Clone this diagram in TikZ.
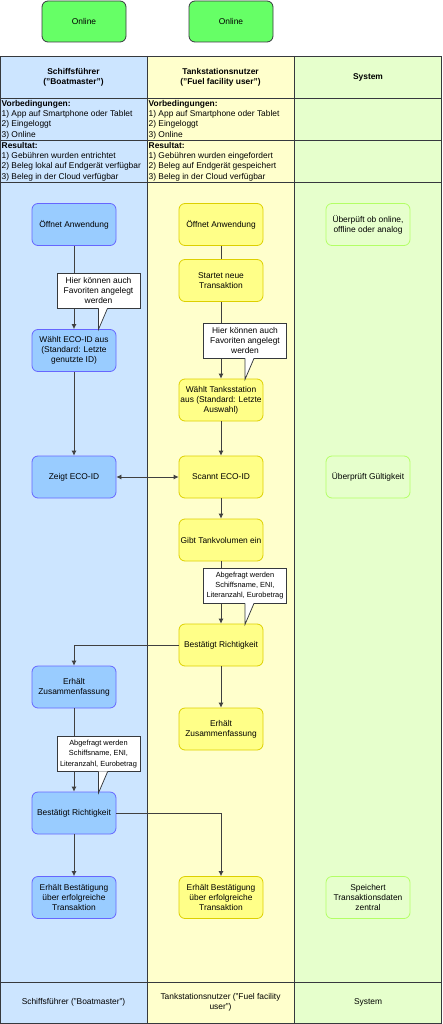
\documentclass[tikz,border=0pt]{standalone}
\usepackage{fontspec}
\setmainfont{Liberation Sans}
\usetikzlibrary{arrows.meta}

\definecolor{laneblue}{HTML}{CCE5FF}
\definecolor{laneyellow}{HTML}{FFFFCC}
\definecolor{lanegreen}{HTML}{E6FFCC}
\definecolor{boxblue}{HTML}{99CCFF}
\definecolor{edgeblue}{HTML}{6666FF}
\definecolor{boxyellow}{HTML}{FFFF88}
\definecolor{edgeyellow}{HTML}{DDD000}
\definecolor{edgegreen}{HTML}{B3FF66}
\definecolor{onlinegreen}{HTML}{66FF66}
\definecolor{linegray}{HTML}{36393D}

\tikzset{
  lane/.style={draw=linegray, line width=0.9pt},
  task/.style={rectangle, rounded corners=6pt, minimum width=84pt, minimum height=42pt,
    align=center, inner sep=1pt, line width=0.8pt, font=\fontsize{8.4}{10}\selectfont},
  blueTask/.style={task, fill=boxblue, draw=edgeblue},
  yellowTask/.style={task, fill=boxyellow, draw=edgeyellow},
  greenTask/.style={task, fill=lanegreen, draw=edgegreen},
  online/.style={task, fill=onlinegreen, draw=linegray, minimum height=41pt},
  head/.style={align=center, font=\fontsize{8.4}{10.3}\selectfont\bfseries},
  foot/.style={align=center, font=\fontsize{8.4}{10.3}\selectfont},
  cond/.style={anchor=west, align=left, inner sep=0.5pt, font=\fontsize{8.4}{10.4}\selectfont},
  note/.style={rectangle, fill=white, draw=linegray, line width=0.75pt, minimum width=83pt,
    minimum height=35pt, align=center, inner sep=1pt, font=\fontsize{8.4}{10}\selectfont},
  smallNote/.style={note, font=\fontsize{7.4}{10.3}\selectfont},
  noteline/.style={draw=linegray, line width=0.75pt},
  flow/.style={draw=black!75, line width=0.8pt}
}

% pointer below a note
\newcommand{\notetail}[1]{%
  \fill[white] ([yshift=0.6pt]#1.south) -- ([xshift=9pt,yshift=0.6pt]#1.south) -- ([yshift=-21pt]#1.south) -- cycle;
  \draw[noteline] ([xshift=9pt]#1.south) -- ([yshift=-21pt]#1.south) -- (#1.south);
}

\begin{document}
\begin{tikzpicture}[x=1pt,y=-1pt,>={Latex[length=5pt,width=5pt]}]
\useasboundingbox (0,0) rectangle (442,1024);

% swimlanes
\fill[laneblue] (0,56) rectangle (147,1024);
\fill[laneyellow] (147,56) rectangle (294,1024);
\fill[lanegreen] (294,56) rectangle (442,1024);
\draw[lane] (0.5,56) rectangle (441.5,1023.5);
\foreach \y in {98,140,182,982} \draw[lane] (0.5,\y) -- (441.5,\y);
\foreach \x in {147,294} \draw[lane] (\x,56) -- (\x,1023.5);

\node[online] (onlineBoat) at (84,21.5) {Online};
\node[online] (onlineFuel) at (231,21.5) {Online};

\node[head] (headBoat) at (73.5,77) {Schiffsführer\\("Boatmaster")};
\node[head] (headFuel) at (220.5,77) {Tankstationsnutzer\\("Fuel facility user")};
\node[head] (headSys) at (368,77) {System};

\node[cond] (preBoat) at (1,119.5) {\textbf{Vorbedingungen:}\\1) App auf Smartphone oder Tablet\\2) Eingeloggt\\3) Online};
\node[cond] (preFuel) at (148,119.5) {\textbf{Vorbedingungen:}\\1) App auf Smartphone oder Tablet\\2) Eingeloggt\\3) Online};
\node[cond] (resBoat) at (1,161.5) {\textbf{Resultat:}\\1) Gebühren wurden entrichtet\\2) Beleg lokal auf Endgerät verfügbar\\3) Beleg in der Cloud verfügbar};
\node[cond] (resFuel) at (148,161.5) {\textbf{Resultat:}\\1) Gebühren wurden eingefordert\\2) Beleg auf Endgerät gespeichert\\3) Beleg in der Cloud verfügbar};

\node[foot] (footBoat) at (73.5,1002.5) {Schiffsführer ("Boatmaster")};
\node[foot] (footFuel) at (220.5,1002.5) {Tankstationsnutzer ("Fuel facility\\user")};
\node[foot] (footSys) at (368,1002.5) {System};

% Schiffsfuehrer
\node[blueTask] (bOpen) at (74,224.5) {Öffnet Anwendung};
\node[blueTask] (bEco) at (74,350.5) {Wählt ECO-ID aus\\(Standard: Letzte\\genutzte ID)};
\node[blueTask] (bShow) at (74,477) {Zeigt ECO-ID};
\node[blueTask] (bSummary) at (74,687) {Erhält\\Zusammenfassung};
\node[blueTask] (bConfirm) at (74,813) {Bestätigt Richtigkeit};
\node[blueTask] (bDone) at (74,897.5) {Erhält Bestätigung\\über erfolgreiche\\Transaktion};

% Tankstationsnutzer
\node[yellowTask] (yOpen) at (221,224.5) {Öffnet Anwendung};
\node[yellowTask] (yStart) at (221,280.5) {Startet neue\\Transaktion};
\node[yellowTask] (yStation) at (221,400) {Wählt Tanksstation\\aus (Standard: Letzte\\Auswahl)};
\node[yellowTask] (yScan) at (221,477) {Scannt ECO-ID};
\node[yellowTask] (yVolume) at (221,540) {Gibt Tankvolumen ein};
\node[yellowTask] (yConfirm) at (221,645) {Bestätigt Richtigkeit};
\node[yellowTask] (ySummary) at (221,729) {Erhält\\Zusammenfassung};
\node[yellowTask] (yDone) at (221,897.5) {Erhält Bestätigung\\über erfolgreiche\\Transaktion};

% System
\node[greenTask] (gCheck) at (368,224.5) {Überpüft ob online,\\offline oder analog};
\node[greenTask] (gValid) at (368,477) {Überprüft Gültigkeit};
\node[greenTask] (gStore) at (368,897.5) {Speichert\\Transaktionsdaten\\zentral};

\draw[flow,->] (bOpen) -- (bEco);
\draw[flow,->] (bEco) -- (bShow);
\draw[flow] (yOpen) -- (yStart);
\draw[flow,->] (yStart) -- (yStation);
\draw[flow,->] (yStation) -- (yScan);
\draw[flow,<->] (bShow) -- (yScan);
\draw[flow,->] (yScan) -- (yVolume);
\draw[flow,->] (yVolume) -- (yConfirm);
\draw[flow,->] (yConfirm) -| (bSummary);
\draw[flow,->] (yConfirm) -- (ySummary);
\draw[flow,->] (bSummary) -- (bConfirm);
\draw[flow,->] (bConfirm) -- (bDone);
\draw[flow,->] (bConfirm) -| (yDone);

% notes
\node[note] (noteEco) at (98.5,290.5) {Hier können auch\\Favoriten angelegt\\werden};
\notetail{noteEco}
\node[note] (noteStation) at (245,340.5) {Hier können auch\\Favoriten angelegt\\werden};
\notetail{noteStation}
\node[smallNote] (noteVolume) at (245,585.5) {Abgefragt werden\\Schiffsname, ENI,\\Literanzahl, Eurobetrag};
\notetail{noteVolume}
\node[smallNote] (noteConfirm) at (98.5,754) {Abgefragt werden\\Schiffsname, ENI,\\Literanzahl, Eurobetrag};
\notetail{noteConfirm}
\end{tikzpicture}
\end{document}
